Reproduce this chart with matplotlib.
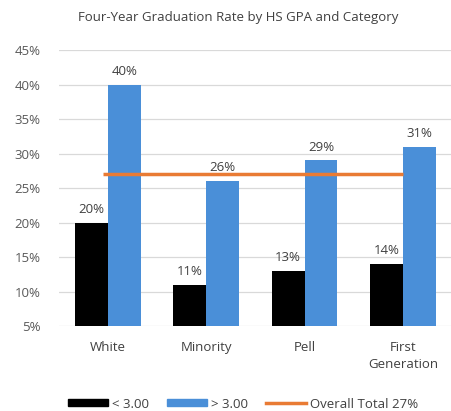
import matplotlib
matplotlib.use("Agg")
import matplotlib.pyplot as plt
import numpy as np
from matplotlib.patches import Patch
from matplotlib.lines import Line2D

categories = ["White", "Minority", "Pell", "First\nGeneration"]
low_gpa = [20, 11, 13, 14]
high_gpa = [40, 26, 29, 31]
overall_total = 27
series_names = ["< 3.00", "> 3.00", "Overall Total 27%"]
yticks = [5, 10, 15, 20, 25, 30, 35, 40, 45]

plt.rcParams['font.family'] = ['Open Sans', 'DejaVu Sans']

fig = plt.figure(figsize=(4.52, 4.11), dpi=100)
ax = fig.add_axes([58.7/452, 85/411, (452-58.7)/452, 276/411])

x = np.arange(len(categories))
w = 0.335
black = "#000000"
blue = "#4A8FD8"
orange = "#E97B34"
txt = "#595959"
fs = 9.5

ax.bar(x - w/2, [v - 5 for v in low_gpa], w, bottom=5, color=black, zorder=2)
ax.bar(x + w/2, [v - 5 for v in high_gpa], w, bottom=5, color=blue, zorder=2)
ax.plot([x[0] - 0.05, x[-1]], [overall_total, overall_total], color=orange, lw=2.5, zorder=3, solid_capstyle='butt')

for xi, v in zip(x - w/2, low_gpa):
    ax.text(xi, v + 1.0, f"{v}%", ha='center', va='bottom', fontsize=fs, color="#404040")
for xi, v in zip(x + w/2, high_gpa):
    ax.text(xi, v + 1.0, f"{v}%", ha='center', va='bottom', fontsize=fs, color="#404040")

ax.set_ylim(5, 45)
ax.set_xlim(-0.5, 3.5)
ax.set_yticks(yticks)
ax.set_yticklabels([f"{t}%" for t in yticks], fontsize=fs, color=txt)
ax.set_xticks(x)
ax.set_xticklabels(categories, fontsize=fs, color="#404040", linespacing=1.35)
ax.tick_params(axis='x', length=0, pad=11)
ax.tick_params(axis='y', length=0, pad=13)
ax.grid(axis='y', color="#D9D9D9", lw=0.9, zorder=0)
for s in ax.spines.values():
    s.set_visible(False)

fig.text(238/452, 1 - 18/411, "Four-Year Graduation Rate by HS GPA and Category",
         ha='center', va='center', fontsize=fs, color="#404040")

handles = [Patch(color=black), Patch(color=blue), Line2D([], [], color=orange, lw=2.5)]
leg = fig.legend(handles, series_names, loc='center', bbox_to_anchor=(243/452, 1 - 404/411),
                 ncol=3, frameon=False, fontsize=fs, handlelength=3.0, handleheight=0.45,
                 handletextpad=0.3, columnspacing=1.4, labelcolor="#404040")

fig.savefig("out.png", dpi=100, facecolor='white')
